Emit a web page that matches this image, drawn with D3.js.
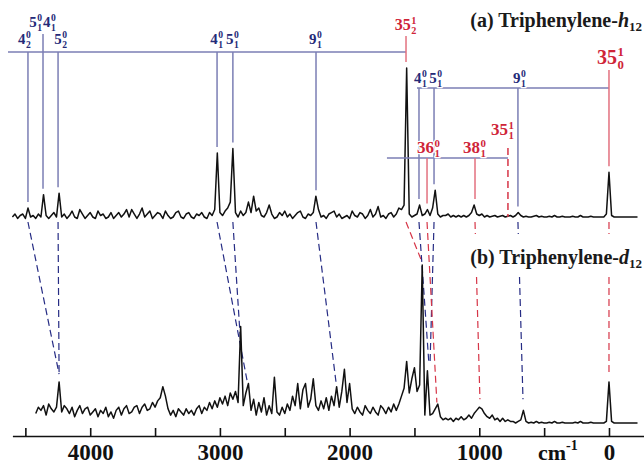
<!DOCTYPE html>
<html>
<head>
<meta charset="utf-8">
<script src="https://cdn.jsdelivr.net/npm/d3@7"></script>
<style>
body { margin: 0; background: #fff; }
svg { display: block; font-family: "Liberation Serif", "Times New Roman", serif; font-weight: bold; }
</style>
</head>
<body>
<div id="chart"></div>
<script>
// Spectra, intensity (arb. units, strongest band = 100) every 20 cm-1
var stepCm = 20;
var startA = 4600;   // triphenylene-h12, 4600 .. -220
var intensA = [
    0, 2, -1, 1, 2, -1, 6, 0, 1, -1,
    2, 0, 15, 1, -1, 1, 3, 0, 16, 0,
    2, -1, 1, 4, 0, -1, 5, 2, -1, 1,
    3, 0, -1, 4, 1, 2, -1, 0, 3, -1,
    1, 3, 0, 2, 5, 0, 5, 2, -1, 2,
    6, 0, 2, 4, -1, 1, 3, 2, -1, 4,
    1, -1, 0, 3, 4, 0, -1, 2, 3, 0,
    -1, 2, 1, 3, 0, -1, 3, 1, 5, 43,
    3, 1, 4, 6, 10, 46, 3, 0, 4, 1,
    3, 10, 3, 14, 4, 6, 1, 0, 3, 8,
    2, -1, 0, 3, 1, 4, 0, 2, -1, 1,
    3, 4, 0, -1, 2, 1, 3, 14, 5, 0,
    1, -1, 2, 3, 4, 0, 2, -1, 0, 1,
    -1, 4, 1, 0, 3, 2, -1, 1, 5, 0,
    2, 7, 0, 1, -1, 2, 3, 0, 2, 6,
    5, 8, 100, 2, 0, 1, 2, 8, 1, 2,
    5, 1, 6, 18, 2, 0, 1, 1, 2, 0,
    1, 0, 1, 0, 1, 0, 1, 3, 8, 2,
    1, 2, 0, 1, 0, 0.5, 1, 0, 0.5, 1,
    0, 0.5, 1, 0, 1, 3, 1, 0, 0.5, 0,
    0, 0.5, 1, 0, 0.5, 0, 0, 0.5, 0, 1,
    0, 0, 0.5, 0, 0, 0, 0.5, 0, 0, 1,
    0, 0, 0, 0.5, 0, 0, 0, 0, 0, 2,
    30, 1, 0, 0, 0, 0, 0, 0, 0, 0, 0, 0
];
var startB = 4420;   // triphenylene-d12, 4420 .. -220
var intensB = [
    6, 10, 8, 11, 5, 12, 9, 7, 10, 26,
    7, 11, 9, 6, 10, 4, 8, 11, 6, 9,
    10, 5, 7, 9, 4, 8, 6, 10, 4, 7,
    3, 8, 10, 5, 9, 11, 6, 7, 10, 11,
    6, 10, 12, 8, 9, 13, 10, 14, 16, 23,
    17, 9, 5, 8, 4, 9, 7, 5, 9, 6,
    8, 5, 9, 11, 6, 10, 8, 13, 9, 14,
    10, 16, 12, 17, 11, 19, 15, 20, 13, 61,
    11, 19, 25, 8, 15, 5, 13, 7, 16, 5,
    11, 6, 29, 7, 5, 10, 6, 12, 8, 17,
    11, 25, 9, 21, 25, 10, 15, 28, 11, 8,
    14, 9, 16, 8, 17, 11, 23, 10, 20, 34,
    13, 25, 9, 6, 10, 7, 5, 11, 8, 6,
    10, 7, 5, 11, 9, 6, 10, 7, 12, 8,
    12, 17, 22, 39, 19, 28, 35, 20, 24, 100,
    5, 33, 5, 6, 9, 12, 4, 2, 3, 2,
    3, 1, 3, 2, 4, 2, 3, 5, 3, 6,
    8, 10, 9, 6, 4, 3, 5, 2, 3, 1,
    3, 1, 2, 1, 1, 0, 1, 2, 8, 1,
    0, 0.5, 0, 1, 0, 0.5, 0, 0, 0.5, 0,
    1, 0, 0, 0.5, 0, 0, 0, 0, 0.5, 0,
    1, 0, 0, 0, 0.5, 0, 0, 0, 0, 0,
    1, 26, 1, 0, 0, 0, 0, 0, 0, 0, 0, 0, 0
];

// Assignments: [number, superscript, subscript]
var topOriginCm = 1565;
var topOriginLabel = [["35", "1", "2"]];
var topBandsCm = [4480, 4364, 4248, 3022, 2900, 2259];
var topBandLabels = [
    [["4", "0", "2"]],
    [["5", "0", "1"], ["4", "0", "1"]],
    [["5", "0", "2"]],
    [["4", "0", "1"]],
    [["5", "0", "1"]],
    [["9", "0", "1"]]
];
var rightOriginCm = 0;
var rightOriginLabel = [["35", "1", "0"]];
var rightBandsCm = [1465, 1349, 702];
var rightBandLabels = [[["4", "0", "1"]], [["5", "0", "1"]], [["9", "0", "1"]]];
var hotBandsCm = [1403, 1033, 779];
var hotBandLabels = [[["36", "0", "1"]], [["38", "0", "1"]], [["35", "1", "1"]]];
var hotLineCm = [1712, 779];

// Correlation of h12 bands with d12 bands
var corrFromCm = [4480, 4248, 3022, 2900, 2259, 1565, 1465, 1349, 1403, 1033, 702, 0];
var corrToCm = [4240, 4240, 2791, 2837, 2105, 1442, 1388, 1380, 1327, 995, 663, 0];
var corrToLevel = [31, 31, 27, 46, 26, 102, 37, 37, 13, 15, 15, 30];
var corrKind = ["b", "b", "b", "b", "b", "r", "b", "b", "r", "r", "b", "r"];

var axisTicks = [4500, 4000, 3500, 3000, 2500, 2000, 1500, 1000, 500, 0];

// Layout
var width = 644, height = 466;
var navy = "#242a78", blueLine = "#7b7eb4", blueDash = "#262c84";
var red = "#cf2438", redLine = "#e3717f", redDash = "#d63547";

var x = d3.scaleLinear().domain([4600, -270]).range([12.4, 644]);
var yA = d3.scaleLinear().domain([0, 100]).range([217, 68]);
var yB = d3.scaleLinear().domain([0, 100]).range([423, 265]);

var svg = d3.select("#chart").append("svg")
    .attr("width", width)
    .attr("height", height);

var ptsA = intensA.map(function (h, i) { return [startA - i * stepCm, h]; });
var ptsB = intensB.map(function (h, i) { return [startB - i * stepCm, h]; });

function peakA(v) {
    return d3.max(ptsA.filter(function (d) { return Math.abs(d[0] - v) <= 20; }), function (d) { return d[1]; });
}

// label with stacked super/subscripts, centred on cx, baseline at by
function addLabel(sel, cx, by, parts, size, color) {
    var g = sel.append("g").attr("fill", color)
        .attr("stroke", "#fff").attr("stroke-width", 2.5)
        .attr("stroke-linejoin", "round").attr("paint-order", "stroke");
    var small = size * 0.64;
    var cursor = 0;
    parts.forEach(function (p) {
        var t = g.append("text").attr("x", cursor).attr("y", 0)
            .style("font-size", size + "px").text(p[0]);
        cursor += t.node().getComputedTextLength() + 0.5;
        var sup = g.append("text").attr("x", cursor).attr("y", -size * 0.38)
            .style("font-size", small + "px").text(p[1]);
        var sub = g.append("text").attr("x", cursor).attr("y", size * 0.26)
            .style("font-size", small + "px").text(p[2]);
        cursor += Math.max(sup.node().getComputedTextLength(), sub.node().getComputedTextLength()) + 1;
    });
    g.attr("transform", "translate(" + (cx - cursor / 2) + "," + by + ")");
}

// Dashed correlation lines
var dashTop = yA(0) + 5;
corrFromCm.forEach(function (v, i) {
    svg.append("line")
        .attr("x1", x(v)).attr("y1", dashTop)
        .attr("x2", x(corrToCm[i])).attr("y2", yB(corrToLevel[i]))
        .attr("stroke", corrKind[i] === "b" ? blueDash : redDash)
        .attr("stroke-width", 1.2)
        .attr("stroke-dasharray", "7,4");
});

// (b) title, on a white band that breaks the dashed lines
var titleB = svg.append("text")
    .attr("x", 642).attr("y", 264)
    .attr("text-anchor", "end")
    .style("font-size", "20px")
    .attr("fill", "#1a1a1a");
titleB.append("tspan").text("(b) Triphenylene-");
titleB.append("tspan").style("font-style", "italic").text("d");
titleB.append("tspan").attr("dy", 4).style("font-size", "13px").text("12");
var bb = titleB.node().getBBox();
svg.insert("rect", "text")
    .attr("x", bb.x - 3).attr("y", 234)
    .attr("width", width - bb.x + 3).attr("height", 42)
    .attr("fill", "#fff");

// Spectra
var lineA = d3.line().x(function (d) { return x(d[0]); }).y(function (d) { return yA(d[1]); });
var lineB = d3.line().x(function (d) { return x(d[0]); }).y(function (d) { return yB(d[1]); });
svg.append("path").attr("d", lineA(ptsA))
    .attr("fill", "none").attr("stroke", "#111").attr("stroke-width", 1.5).attr("stroke-linejoin", "round");
svg.append("path").attr("d", lineB(ptsB))
    .attr("fill", "none").attr("stroke", "#111").attr("stroke-width", 1.5).attr("stroke-linejoin", "round");

// Top progression comb (built on 35^1_2)
var combTopY = 52;
var topRow = [0, 1, 0, 0, 0, 0];
var topShift = [-3, 0, 3, 0, 0, 0];
svg.append("line")
    .attr("x1", x(topBandsCm[0]) - 20).attr("x2", x(topOriginCm))
    .attr("y1", combTopY).attr("y2", combTopY)
    .attr("stroke", blueLine).attr("stroke-width", 1.5);
topBandsCm.forEach(function (v, i) {
    svg.append("line")
        .attr("x1", x(v)).attr("x2", x(v))
        .attr("y1", topRow[i] ? 34 : combTopY).attr("y2", yA(peakA(v)) - 6)
        .attr("stroke", blueLine).attr("stroke-width", 1.5);
    addLabel(svg, x(v) + topShift[i], topRow[i] ? 27 : 44, topBandLabels[i], 15, navy);
});
svg.append("line")
    .attr("x1", x(topOriginCm)).attr("x2", x(topOriginCm))
    .attr("y1", 36).attr("y2", yA(peakA(topOriginCm)) - 6)
    .attr("stroke", redLine).attr("stroke-width", 1.5);
addLabel(svg, x(topOriginCm), 30, topOriginLabel, 16, red);

// Right progression comb (built on the origin 35^1_0)
var combRightY = 88;
svg.append("line")
    .attr("x1", x(rightBandsCm[0]) - 2).attr("x2", x(rightOriginCm))
    .attr("y1", combRightY).attr("y2", combRightY)
    .attr("stroke", blueLine).attr("stroke-width", 1.5);
rightBandsCm.forEach(function (v, i) {
    svg.append("line")
        .attr("x1", x(v)).attr("x2", x(v))
        .attr("y1", combRightY).attr("y2", yA(peakA(v)) - 6)
        .attr("stroke", blueLine).attr("stroke-width", 1.5);
});
svg.append("line")
    .attr("x1", x(rightOriginCm)).attr("x2", x(rightOriginCm))
    .attr("y1", 70).attr("y2", yA(peakA(rightOriginCm)) - 6)
    .attr("stroke", redLine).attr("stroke-width", 1.5);

// Hot / other bands
var hotY = 158;
svg.append("line")
    .attr("x1", x(hotLineCm[0])).attr("x2", x(hotLineCm[1]))
    .attr("y1", hotY).attr("y2", hotY)
    .attr("stroke", blueLine).attr("stroke-width", 1.5);
hotBandsCm.forEach(function (v, i) {
    var last = i === hotBandsCm.length - 1;
    svg.append("line")
        .attr("x1", x(v)).attr("x2", x(v))
        .attr("y1", last ? 148 : hotY).attr("y2", last ? yA(0) : yA(peakA(v)) - 6)
        .attr("stroke", last ? redDash : redLine).attr("stroke-width", 1.5)
        .attr("stroke-dasharray", last ? "7,4" : null);
});

// labels drawn last so their halos sit over the lines
rightBandsCm.forEach(function (v, i) {
    addLabel(svg, x(v) + 2, 83, rightBandLabels[i], 15, navy);
});
addLabel(svg, x(rightOriginCm) + 2, 64, rightOriginLabel, 20, red);
addLabel(svg, x(hotBandsCm[0]) + 2, 153, hotBandLabels[0], 17, red);
addLabel(svg, x(hotBandsCm[1]), 153, hotBandLabels[1], 17, red);
addLabel(svg, x(hotBandsCm[2]) - 5, 135, hotBandLabels[2], 17, red);

// (a) title
var titleA = svg.append("text")
    .attr("x", 642).attr("y", 27)
    .attr("text-anchor", "end")
    .style("font-size", "20px")
    .attr("fill", "#1a1a1a");
titleA.append("tspan").text("(a) Triphenylene-");
titleA.append("tspan").style("font-style", "italic").text("h");
titleA.append("tspan").attr("dy", 4).style("font-size", "13px").text("12");

// Axis
var xAxis = d3.axisBottom(x)
    .tickValues(axisTicks)
    .tickSize(-8)
    .tickSizeOuter(0)
    .tickPadding(8)
    .tickFormat(function (d) { return d % 1000 === 0 ? d : ""; });
var gx = svg.append("g")
    .attr("transform", "translate(0,436)")
    .call(xAxis);
gx.attr("font-family", null).attr("font-size", null);
gx.select(".domain").attr("stroke", "#111").attr("stroke-width", 1.6);
gx.selectAll(".tick line").attr("stroke", "#111").attr("stroke-width", 1.6);
gx.selectAll(".tick text").style("font-size", "23px").attr("fill", "#111");

var unit = svg.append("text")
    .attr("x", 538).attr("y", 460)
    .style("font-size", "22px")
    .attr("fill", "#111");
unit.append("tspan").text("cm");
unit.append("tspan").attr("dy", -10).style("font-size", "14px").text("-1");
</script>
</body>
</html>
